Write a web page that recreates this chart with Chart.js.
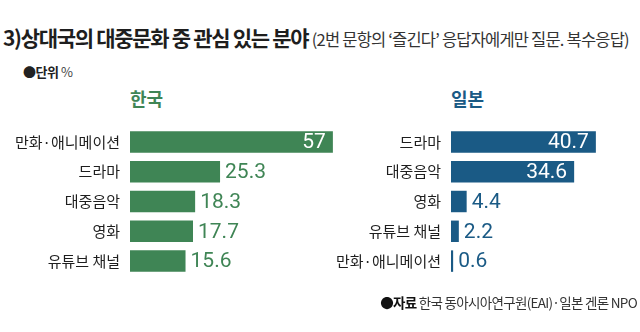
<!DOCTYPE html>
<html>
<head>
<meta charset="utf-8">
<script src="https://cdn.jsdelivr.net/npm/chart.js@4/dist/chart.umd.min.js"></script>
<style>
  html, body { margin: 0; padding: 0; background: #fff; }
  body { width: 640px; height: 332px; position: relative; overflow: hidden; font-family: "Noto Sans CJK KR", sans-serif; color: #222; }
  .abs { position: absolute; white-space: nowrap; }
  #title { left: 3px; top: 22px; font-size: 21px; font-weight: 700; letter-spacing: -1.3px; color: #1e1e1e; }
  #title span { font-size: 16.5px; font-weight: 400; letter-spacing: -0.8px; color: #333; }
  #unit { left: 23px; top: 62px; font-size: 13px; font-weight: 700; letter-spacing: -0.5px; }
  #unit span { font-weight: 400; color: #444; }
  .head { top: 85px; font-size: 18px; font-weight: 700; }
  #source { right: 3px; top: 292px; font-size: 13.5px; letter-spacing: -0.7px; color: #333; }
  #source b { color: #111; }
  canvas { position: absolute; }
</style>
</head>
<body>
<div id="title" class="abs">3)상대국의 대중문화 중 관심 있는 분야 <span>(2번 문항의 ‘즐긴다’ 응답자에게만 질문. 복수응답)</span></div>
<div id="unit" class="abs">●단위 <span>%</span></div>
<div class="abs head" style="left:130px;color:#3f8555">한국</div>
<div class="abs head" style="left:451px;color:#1a5a85">일본</div>
<div style="position:absolute;left:0;top:108px;width:340px;height:187px"><canvas id="korea"></canvas></div>
<div style="position:absolute;left:330px;top:108px;width:310px;height:187px"><canvas id="japan"></canvas></div>
<div id="source" class="abs"><b>●자료</b> 한국 동아시아연구원(EAI)·일본 겐론 NPO</div>

<script>
// 한국 응답자: 일본 대중문화 중 관심 분야
const koreaLabels = ['만화·애니메이션', '드라마', '대중음악', '영화', '유튜브 채널'];
const koreaValues = [57, 25.3, 18.3, 17.7, 15.6];

// 일본 응답자: 한국 대중문화 중 관심 분야
const japanLabels = ['드라마', '대중음악', '영화', '유튜브 채널', '만화·애니메이션'];
const japanValues = [40.7, 34.6, 4.4, 2.2, 0.6];

const green = '#3f8555';
const blue = '#1a5a85';

// 막대 끝에 값 표시 (큰 값은 막대 안쪽 흰 글씨)
const valueLabels = {
    id: 'valueLabels',
    afterDatasetsDraw(chart) {
        const ctx = chart.ctx;
        const ds = chart.data.datasets[0];
        const meta = chart.getDatasetMeta(0);
        ctx.save();
        ctx.font = '21px Roboto, sans-serif';
        ctx.textBaseline = 'middle';
        meta.data.forEach((bar, i) => {
            const v = ds.data[i];
            const txt = String(v);
            if (v > 30) {
                ctx.fillStyle = '#fff';
                ctx.textAlign = 'right';
                ctx.fillText(txt, bar.x - 7, bar.y + 1);
            } else {
                ctx.fillStyle = ds.backgroundColor;
                ctx.textAlign = 'left';
                ctx.fillText(txt, bar.x + 5, bar.y + 1);
            }
        });
        ctx.restore();
    }
};

function makeChart(canvasId, labels, values, color, axisWidth, maxValue) {
    return new Chart(document.getElementById(canvasId), {
        type: 'bar',
        data: {
            labels: labels,
            datasets: [{
                data: values,
                backgroundColor: color,
                borderWidth: 0,
                barPercentage: 0.72,
                categoryPercentage: 1
            }]
        },
        options: {
            indexAxis: 'y',
            responsive: true,
            maintainAspectRatio: false,
            animation: false,
            layout: { padding: 0 },
            plugins: {
                legend: { display: false },
                tooltip: { enabled: false }
            },
            scales: {
                x: { display: false, min: 0, max: maxValue },
                y: {
                    border: { display: false },
                    grid: { display: false, drawTicks: false },
                    ticks: {
                        color: '#1e1e1e',
                        padding: 10,
                        font: { family: '"Noto Sans CJK KR", sans-serif', size: 15 }
                    },
                    afterFit: (scale) => { scale.width = axisWidth; }
                }
            }
        },
        plugins: [valueLabels]
    });
}

makeChart('korea', koreaLabels, koreaValues, green, 130, 59);
makeChart('japan', japanLabels, japanValues, blue, 121, 53.1);
</script>
</body>
</html>
